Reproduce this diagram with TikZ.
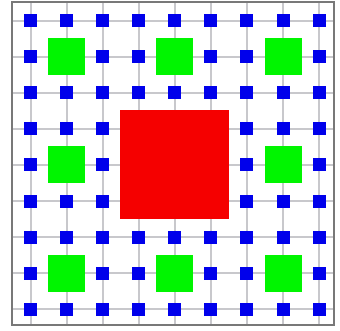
\documentclass[tikz,border=0pt]{standalone}
\definecolor{gridgray}{RGB}{200,200,204}
\definecolor{framegray}{RGB}{120,120,120}
\definecolor{dotblue}{RGB}{0,0,235}
\definecolor{boxgreen}{RGB}{0,245,0}
\definecolor{boxred}{RGB}{245,0,0}
\tikzset{
  gridline/.style={draw=gridgray, line width=2.2pt},
  frameline/.style={draw=framegray, line width=1.4pt},
  bluedot/.style={fill=dotblue},
  greenbox/.style={fill=boxgreen},
  redbox/.style={fill=boxred}
}
\begin{document}
\begin{tikzpicture}[x=1pt,y=-1pt]
\useasboundingbox (0,0) rectangle (340,330);
\fill[white] (0,0) rectangle (340,330);
% grid lines
\foreach \i in {0,...,8}{
  \draw[gridline] ({30.8+36.03*\i},2) -- ({30.8+36.03*\i},325);
  \draw[gridline] (12,{20.7+36.07*\i}) -- (334,{20.7+36.07*\i});
}
% frame
\draw[frameline] (12,2) rectangle (334,325);
% green boxes
\foreach \i in {1,4,7}{
  \foreach \j in {1,4,7}{
    \ifnum\i=4 \ifnum\j=4 \else
      \fill[greenbox] ({30.8+36.03*\i-18.5},{20.7+36.07*\j-18.5}) rectangle +(37,37);
    \fi\else
      \fill[greenbox] ({30.8+36.03*\i-18.5},{20.7+36.07*\j-18.5}) rectangle +(37,37);
    \fi
  }
}
% red box
\fill[redbox] ({30.8+36.03*4-54.5},{20.7+36.07*4-54.5}) rectangle +(109,109);
% blue dots
\foreach \i in {0,...,8}{
  \foreach \j in {0,...,8}{
    \pgfmathtruncatemacro{\skip}{
      ((\i>=3)&&(\i<=5)&&(\j>=3)&&(\j<=5)) ||
      ((\i==1||\i==4||\i==7)&&(\j==1||\j==4||\j==7)) ? 1 : 0}
    \ifnum\skip=0
      \fill[bluedot] ({30.8+36.03*\i-6.5},{20.7+36.07*\j-6.5}) rectangle +(13,13);
    \fi
  }
}
\end{tikzpicture}
\end{document}
